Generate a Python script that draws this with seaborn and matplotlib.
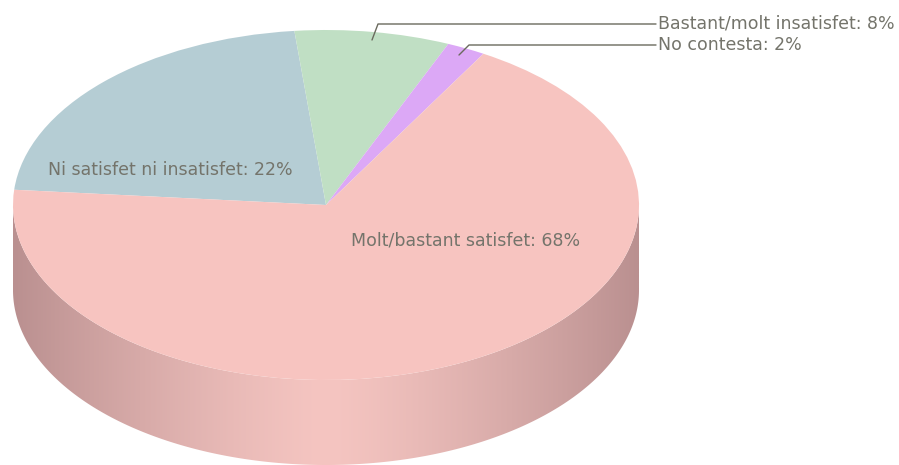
import numpy as np
import matplotlib
matplotlib.use("Agg")
import matplotlib.pyplot as plt
from matplotlib.patches import Polygon
import seaborn as sns

# data
labels = ["Ni satisfet ni insatisfet", "Bastant/molt insatisfet", "No contesta", "Molt/bastant satisfet"]
shares = [22, 8, 2, 68]
colors = ["#b5cdd4", "#c0dfc4", "#dca8f6", "#f7c4c0"]

# canvas geometry in pixels (ellipse centre, radii, depth of the 3d side)
W, H = 899, 465
CX, CY, RX, RY, DEPTH = 326, 205, 313, 175, 85

sns.set_style("white")
plt.rcParams['font.family'] = ['DejaVu Sans']

fig = plt.figure(figsize=(W / 100, H / 100), dpi=100)
ax = fig.add_axes([0, 0, 1, 1])


def px(x, y):
    # pixel position -> data units of the squashed unit circle
    return (x - CX) / RX, (CY - y) / RY


# side of the cylinder, only the front half shows
d = DEPTH / RY
t = np.linspace(np.pi, 2 * np.pi, 300)
top = np.column_stack([np.cos(t), np.sin(t)])
bot = np.column_stack([np.cos(t[::-1]), np.sin(t[::-1]) - d])
side = Polygon(np.vstack([top, bot]), closed=True, facecolor="none", edgecolor="none")
ax.add_patch(side)
xs = np.linspace(-1, 1, 500)
k = 1 - np.abs(xs) ** 1.3
dark = np.array([186, 144, 144]) / 255
light = np.array([245, 197, 193]) / 255
grad = dark + (light - dark) * k[:, None]
img = ax.imshow(grad[None, :, :], extent=(-1, 1, -1 - d, 0), aspect="auto",
                interpolation="bilinear", zorder=0)
img.set_clip_path(side)

# top face
wedges, _ = ax.pie(shares, colors=colors, startangle=175, counterclock=False,
                   radius=1, wedgeprops=dict(linewidth=0), frame=True)

txt = dict(fontsize=12.5, color="#74746b")
ax.text(*px(48, 170), f"{labels[0]}: {shares[0]}%", ha="left", va="center", **txt)
ax.text(*px(351, 240), f"{labels[3]}: {shares[3]}%", ha="left", va="center", **txt)
ax.text(*px(658, 23), f"{labels[1]}: {shares[1]}%", ha="left", va="center", **txt)
ax.text(*px(658, 45), f"{labels[2]}: {shares[2]}%", ha="left", va="center", **txt)

# leader lines
for pts in ([(372, 40), (378, 24), (656, 24)], [(459, 55), (469, 45), (656, 45)]):
    xy = np.array([px(*p) for p in pts])
    ax.plot(xy[:, 0], xy[:, 1], color="#6a6a5e", lw=1)

ax.set_xlim(px(0, 0)[0], px(W, 0)[0])
ax.set_ylim(px(0, H)[1], px(0, 0)[1])
ax.set_aspect("auto")
ax.axis("off")

fig.savefig("out.png", dpi=100, facecolor="white")
